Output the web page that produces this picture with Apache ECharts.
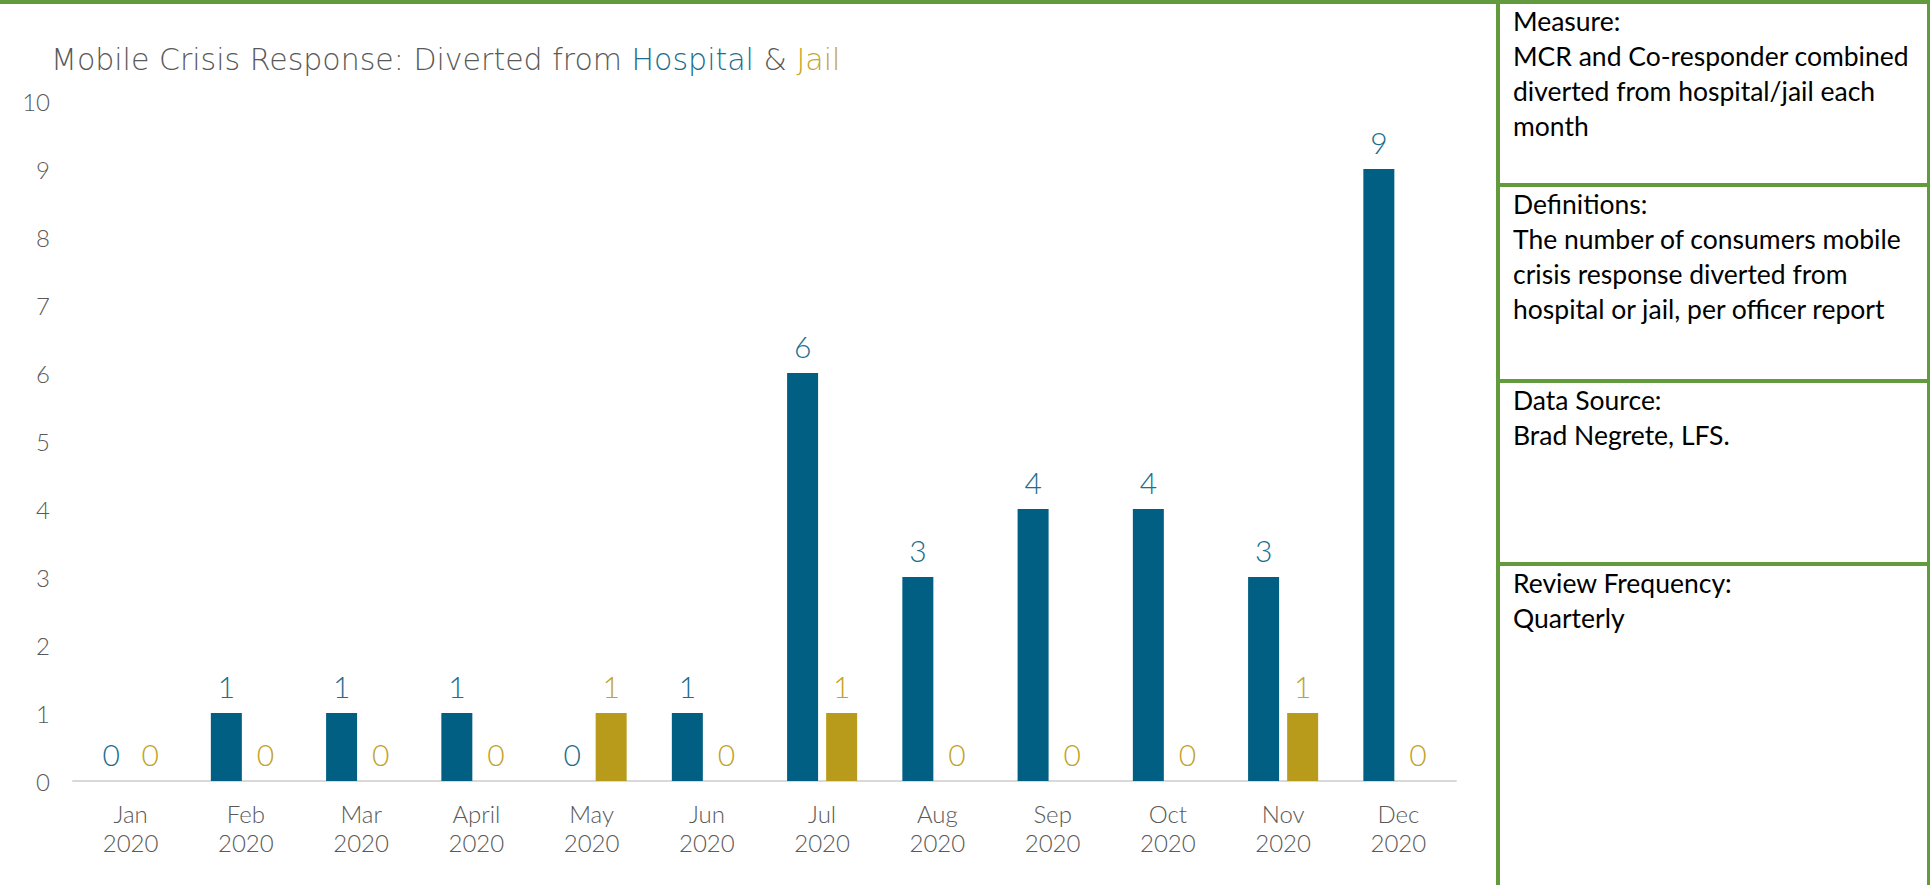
<!DOCTYPE html>
<html>
<head>
<meta charset="utf-8">
<title>Mobile Crisis Response</title>
<script src="https://cdn.jsdelivr.net/npm/echarts@6/dist/echarts.min.js"></script>
<style>
  html, body { margin: 0; padding: 0; background: #fff; }
  #chart { width: 1930px; height: 885px; }
</style>
</head>
<body>
<div id="chart"></div>
<script>
// chart data
const months = ['Jan', 'Feb', 'Mar', 'April', 'May', 'Jun', 'Jul', 'Aug', 'Sep', 'Oct', 'Nov', 'Dec']
const year = '2020'
const hospital = [0, 1, 1, 1, 0, 1, 6, 3, 4, 4, 3, 9]
const jail = [0, 0, 0, 0, 1, 0, 1, 0, 0, 0, 1, 0]
const yTicks = [0, 1, 2, 3, 4, 5, 6, 7, 8, 9, 10]

// side panel text
const panelSections = [
  'Measure:\nMCR and Co-responder combined\ndiverted from hospital/jail each\nmonth',
  'Definitions:\nThe number of consumers mobile\ncrisis response diverted from\nhospital or jail, per officer report',
  'Data Source:\nBrad Negrete, LFS.',
  'Review Frequency:\nQuarterly'
]

const blue = '#005f83'
const gold = '#b89b1b'
const grey = '#595959'
const green = '#629b3d'
const chartFont = 'Lato'
const titleFont = 'DejaVu Sans'

const chart = echarts.init(document.getElementById('chart'), null, { renderer: 'svg' })

// side panel: borders + text blocks
const dividerTops = [0, 183, 379, 562]
const panelGraphics = [
  { type: 'rect', shape: { x: 0, y: 0, width: 1930, height: 4 }, style: { fill: green } },
  { type: 'rect', shape: { x: 1496, y: 0, width: 4, height: 885 }, style: { fill: green } },
  { type: 'rect', shape: { x: 1927, y: 0, width: 3, height: 885 }, style: { fill: green } }
]
dividerTops.forEach((y, i) => {
  if (i > 0) {
    panelGraphics.push({ type: 'rect', shape: { x: 1496, y: y, width: 434, height: 4 }, style: { fill: green } })
  }
  panelGraphics.push({
    type: 'text',
    x: 1513,
    y: y + 3,
    style: {
      text: panelSections[i],
      font: '26.5px Lato',
      lineHeight: 35,
      fill: '#000',
      textVerticalAlign: 'top'
    }
  })
})

const option = {
  backgroundColor: '#fff',
  textStyle: { fontFamily: chartFont },
  title: {
    left: 46,
    top: 39,
    text: '{a|Mobile Crisis Response: Diverted from }{h|Hospital}{a| & }{j|Jail}',
    textStyle: {
      rich: {
        a: { fontSize: 30, fontWeight: 200, color: grey, fontFamily: titleFont },
        h: { fontSize: 30, fontWeight: 200, color: '#1b6e8e', fontFamily: titleFont },
        j: { fontSize: 30, fontWeight: 200, color: '#c4a52b', fontFamily: titleFont }
      }
    }
  },
  grid: { left: 73, right: 474, top: 101, bottom: 104 },
  xAxis: {
    type: 'category',
    data: months.map(m => m + '\n' + year),
    axisLine: { lineStyle: { color: '#d9d9d9', width: 2 } },
    axisTick: { show: false },
    axisLabel: { color: grey, fontSize: 24, lineHeight: 29, margin: 18, fontWeight: 300 }
  },
  yAxis: {
    type: 'value',
    min: yTicks[0],
    max: yTicks[yTicks.length - 1],
    interval: 1,
    splitLine: { show: false },
    axisLine: { show: false },
    axisTick: { show: false },
    axisLabel: { color: grey, fontSize: 24, margin: 23, fontWeight: 300 }
  },
  series: [
    {
      name: 'Hospital',
      type: 'bar',
      data: hospital,
      barWidth: 31,
      barGap: '26%',
      itemStyle: { color: blue },
      label: { show: true, position: 'top', distance: 12, fontSize: 30, color: '#1b6e8e', fontWeight: 300 }
    },
    {
      name: 'Jail',
      type: 'bar',
      data: jail,
      barWidth: 31,
      barGap: '26%',
      itemStyle: { color: gold },
      label: { show: true, position: 'top', distance: 12, fontSize: 30, color: '#bfa32a', fontWeight: 300 }
    }
  ],
  graphic: panelGraphics
}

chart.setOption(option)
window.addEventListener('resize', chart.resize)
</script>
</body>
</html>
